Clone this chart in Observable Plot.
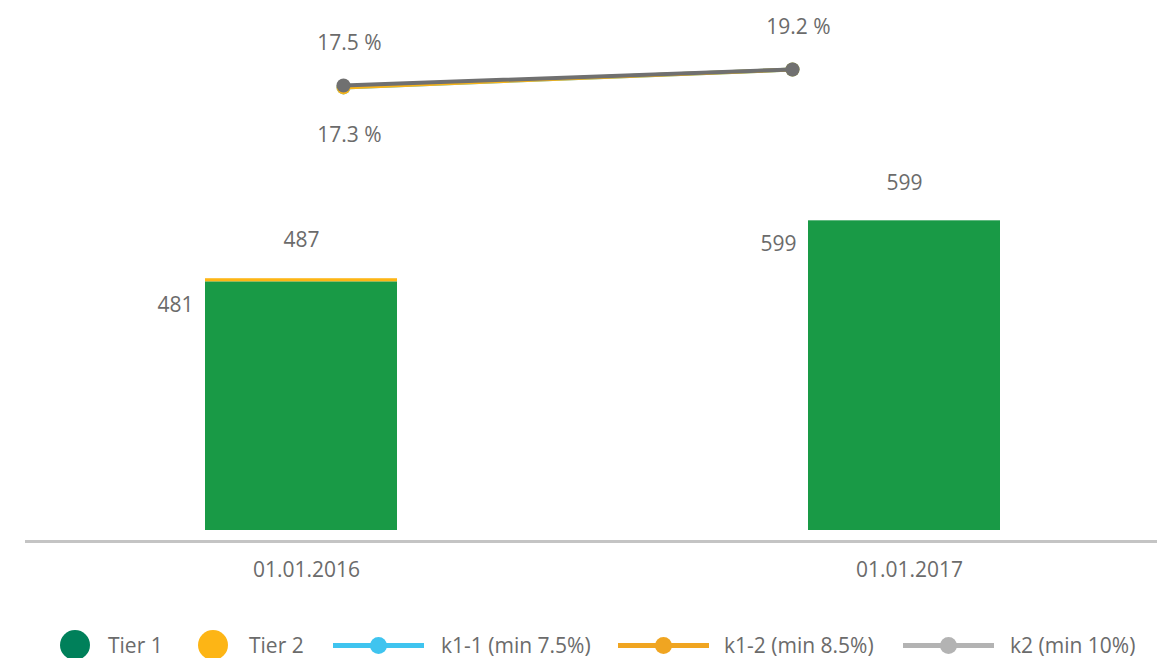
<!DOCTYPE html>
<html>
<head>
<meta charset="utf-8">
<script src="https://cdn.jsdelivr.net/npm/d3@7"></script>
<script src="https://cdn.jsdelivr.net/npm/@observablehq/plot@0.6"></script>
<style>
  html, body { margin: 0; padding: 0; background: #fff; }
  #wrap { position: relative; width: 1157px; height: 658px; overflow: hidden; font-family: "Open Sans", sans-serif; color: #6b6b6b; }
  #wrap svg { position: absolute; top: 0; left: 0; overflow: visible; }
  .lg { position: absolute; font-size: 21px; line-height: 30px; top: 630px; white-space: nowrap; }
  .sw { position: absolute; }
</style>
</head>
<body>
<div id="wrap"></div>
<script>
// ---- data ----
const dates = ["01.01.2016", "01.01.2017"];
const tier1 = [481, 599];
const tier2 = [6, 0];
const totals = [487, 599];
const k11 = [17.3, 19.2];
const k12 = [17.3, 19.2];
const k2 = [17.5, 19.2];
const seriesNames = ["k1-1 (min 7.5%)", "k1-2 (min 8.5%)", "k2 (min 10%)"];

const rows = dates.map((d, i) => ({date: d, tier1: tier1[i], tier2: tier2[i], total: totals[i]}));
const lineRows = [];
[k11, k12, k2].forEach((arr, s) => dates.forEach((d, i) => lineRows.push({series: seriesNames[s], date: d, value: arr[i]})));

const textColor = "#6b6b6b";
const font = "Open Sans";

// ---- bars ----
const bars = Plot.plot({
  width: 1157, height: 600,
  marginLeft: 54, marginRight: 6, marginTop: 13, marginBottom: 70,
  style: {fontFamily: font, color: textColor, background: "transparent"},
  x: {domain: dates, paddingInner: 0.6816, paddingOuter: 0.25, axis: null},
  y: {domain: [0, 1000], axis: null},
  marks: [
    Plot.barY(rows, {x: "date", y1: 0, y2: "tier1", fill: "#199a46"}),
    Plot.barY(rows, {x: "date", y1: "tier1", y2: "total", fill: "#fdb515"}),
    Plot.ruleY([0], {dy: 11, insetLeft: -29, insetRight: -6, stroke: "#c4c4c4", strokeWidth: 3}),
    Plot.axisX({tickSize: 0, tickPadding: 32, fontSize: 21, dx: 5, fill: textColor, label: null}),
    Plot.text(rows, {x: "date", y: "total", text: d => String(d.total), dy: -38, fontSize: 21, fill: textColor}),
    Plot.text(rows, {x: "date", y: "tier1", text: d => String(d.tier1), dx: -108, dy: 23, textAnchor: "end", fontSize: 21, fill: textColor})
  ]
});

// ---- ratio lines ----
const lineColors = {"k1-1 (min 7.5%)": "#3fc4ef", "k1-2 (min 8.5%)": "#f9b418", "k2 (min 10%)": "#707070"};
const lines = Plot.plot({
  width: 1157, height: 600,
  marginLeft: 343, marginRight: 365, marginTop: 61.5, marginBottom: 350.3,
  style: {fontFamily: font, color: textColor, background: "transparent"},
  x: {type: "point", domain: dates, padding: 0, axis: null},
  y: {domain: [0, 20], axis: null},
  marks: seriesNames.flatMap(name => [
    Plot.line(lineRows.filter(d => d.series === name), {x: "date", y: "value", stroke: lineColors[name], strokeWidth: 4}),
    Plot.dot(lineRows.filter(d => d.series === name), {x: "date", y: "value", fill: lineColors[name], r: 7})
  ]).concat([
    Plot.text(lineRows.filter(d => d.series === "k2 (min 10%)"), {x: "date", y: "value", text: d => d.value.toFixed(1) + " %", dy: -42, dx: 6, fontSize: 21, fill: textColor}),
    Plot.text(lineRows.filter(d => d.series === "k1-2 (min 8.5%)" && d.date === dates[0]), {x: "date", y: "value", text: d => d.value.toFixed(1) + " %", dy: 48, dx: 6, fontSize: 21, fill: textColor})
  ])
});

const wrap = document.getElementById("wrap");
wrap.appendChild(bars);
wrap.appendChild(lines);

// ---- legend ----
const legendItems = [
  {label: "Tier 1", kind: "circle", color: "#00805a", left: 60, text: 108},
  {label: "Tier 2", kind: "circle", color: "#fdb515", left: 198, text: 249},
  {label: seriesNames[0], kind: "line", color: "#3fc4ef", left: 333, text: 441},
  {label: seriesNames[1], kind: "line", color: "#f0a521", left: 618, text: 724},
  {label: seriesNames[2], kind: "line", color: "#b3b3b3", left: 903, text: 1010}
];
legendItems.forEach(it => {
  if (it.kind === "circle") {
    const c = document.createElement("div");
    c.className = "sw";
    Object.assign(c.style, {left: it.left + "px", top: "630px", width: "30px", height: "30px", borderRadius: "50%", background: it.color});
    wrap.appendChild(c);
  } else {
    const l = document.createElement("div");
    l.className = "sw";
    Object.assign(l.style, {left: it.left + "px", top: "642.5px", width: "91px", height: "5px", background: it.color});
    wrap.appendChild(l);
    const d = document.createElement("div");
    d.className = "sw";
    Object.assign(d.style, {left: (it.left + 37) + "px", top: "636.5px", width: "17px", height: "17px", borderRadius: "50%", background: it.color});
    wrap.appendChild(d);
  }
  const t = document.createElement("div");
  t.className = "lg";
  t.style.left = it.text + "px";
  t.textContent = it.label;
  wrap.appendChild(t);
});
</script>
</body>
</html>
